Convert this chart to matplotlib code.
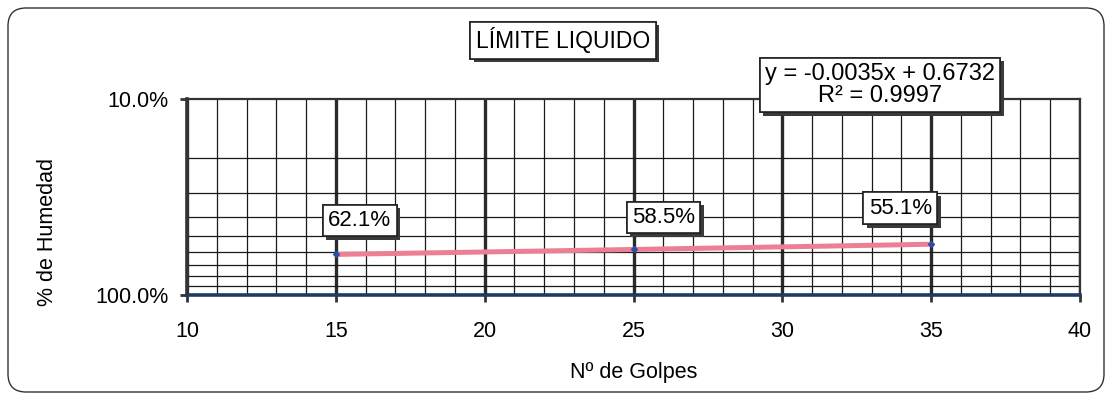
import numpy as np
import matplotlib
matplotlib.use('Agg')
import matplotlib.pyplot as plt
import matplotlib.patheffects as pe
from matplotlib.patches import FancyBboxPatch
from matplotlib.ticker import FixedLocator, FuncFormatter, NullFormatter

# Liquid limit test: number of blows vs moisture content
golpes = [15, 25, 35]
humedad = [0.621, 0.585, 0.551]
etiquetas = ["62.1%", "58.5%", "55.1%"]
x_ticks = [10, 15, 20, 25, 30, 35, 40]
y_ticks = [0.1, 1.0]

plt.rcParams['font.family'] = ['Liberation Sans', 'DejaVu Sans']

W, H = 1112, 398
fig = plt.figure(figsize=(W / 100, H / 100), dpi=100)
fig.patch.set_facecolor('white')

# rounded outer frame of the chart area
bg = fig.add_axes([0, 0, 1, 1], zorder=0)
bg.set_xlim(0, W)
bg.set_ylim(0, H)
bg.axis('off')
bg.add_patch(FancyBboxPatch((8, 6), W - 16, H - 14,
                            boxstyle='round,pad=0,rounding_size=18',
                            fc='white', ec='#333333', lw=1.0))

ax = fig.add_axes([187 / W, (H - 295) / H, (1080 - 187) / W, 196 / H], zorder=1)
ax.set_facecolor('white')
ax.set_yscale('log')
ax.set_xlim(10, 40)
ax.set_ylim(1.0, 0.1)

# grid: thin lines every blow / every 10 %, heavy lines every 5 blows
ax.xaxis.set_major_locator(FixedLocator(x_ticks))
ax.xaxis.set_minor_locator(FixedLocator(np.arange(10, 41, 1)))
ax.yaxis.set_major_locator(FixedLocator(y_ticks))
ax.yaxis.set_minor_locator(FixedLocator(np.arange(0.2, 1.0, 0.1)))
ax.yaxis.set_minor_formatter(NullFormatter())
ax.yaxis.set_major_formatter(FuncFormatter(lambda v, p: f"{v * 100:.1f}%"))

ax.grid(which='minor', axis='both', color='#1a1a1a', lw=0.9)
ax.grid(which='major', axis='x', color='#2b2b2b', lw=2.4)
ax.tick_params(which='minor', length=0)
ax.tick_params(which='major', direction='out', length=5, width=2,
               color='#333333', labelsize=15.5)
ax.tick_params(axis='x', pad=14)
ax.tick_params(axis='y', pad=8)

for side, (c, w) in {'left': ('#333333', 2.6), 'bottom': ('#1d3b63', 2.6),
                     'top': ('#333333', 1.6), 'right': ('#333333', 1.6)}.items():
    ax.spines[side].set_color(c)
    ax.spines[side].set_linewidth(w)

# linear trend of moisture vs blows
m, b = np.polyfit(golpes, humedad, 1)
pred = np.polyval([m, b], golpes)
ss_res = np.sum((np.array(humedad) - pred) ** 2)
ss_tot = np.sum((np.array(humedad) - np.mean(humedad)) ** 2)
r2 = 1 - ss_res / ss_tot

xt = np.linspace(min(golpes), max(golpes), 50)
ax.plot(xt, m * xt + b, color='#ec7f96', lw=3.6, solid_capstyle='butt', zorder=4)
ax.plot(golpes, humedad, ls='none', marker='D', ms=3, color='#2a4fa0', zorder=5)

shadow = [pe.withSimplePatchShadow(offset=(2.5, -2.5), shadow_rgbFace='#3a3a3a', alpha=1.0),
          pe.Normal()]
box = dict(boxstyle='square,pad=0.24', fc='white', ec='#222222', lw=1.2)

offsets = [(24, 34), (30, 32), (-31, 36)]
for x, y, t, off in zip(golpes, humedad, etiquetas, offsets):
    a = ax.annotate(t, (x, y), xytext=off, textcoords='offset pixels',
                    ha='center', va='center', fontsize=16, bbox=box, zorder=6)
    a.get_bbox_patch().set_path_effects(shadow)

ax.set_ylabel('% de Humedad', fontsize=15.5)
ax.yaxis.set_label_coords(-0.145, 0.32)
ax.set_xlabel('Nº de Golpes', fontsize=15.5, labelpad=14)

t = fig.text(563 / W, 1 - 40 / H, 'LÍMITE LIQUIDO', ha='center', va='center',
             fontsize=16.5, bbox=box, zorder=7)
t.get_bbox_patch().set_path_effects(shadow)

eq = f"y = {m:.4f}x + {b:.4f}\nR² = {r2:.4f}"
e = fig.text(880 / W, 1 - 85 / H, eq, ha='center', va='center', fontsize=17,
             linespacing=1.0, bbox=dict(boxstyle='square,pad=0.22', fc='white',
                                        ec='#222222', lw=1.2), zorder=7)
e.get_bbox_patch().set_path_effects(shadow)

fig.savefig('out.png', dpi=100)
